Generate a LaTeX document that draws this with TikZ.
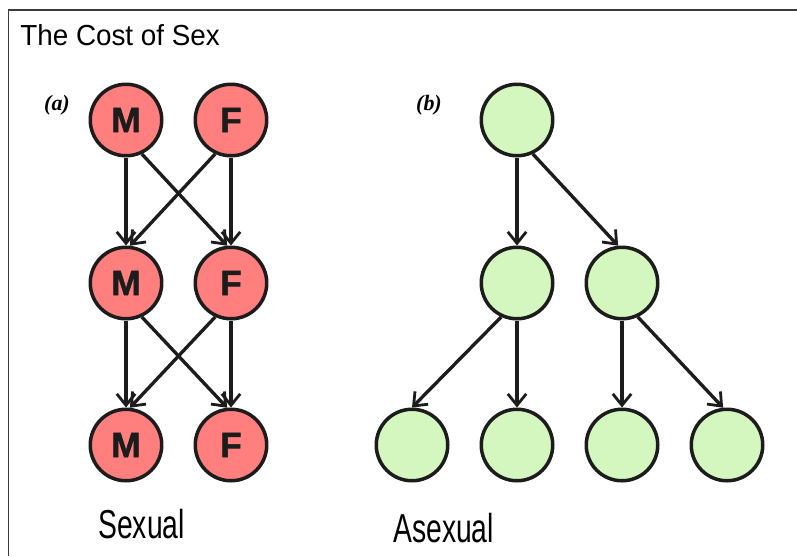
\documentclass[tikz,border=0pt]{standalone}
\usepackage{fontspec}
\setmainfont{Liberation Sans}
\newfontfamily\tagfont{Liberation Serif}
\newfontfamily\heavyfont[FakeBold=1.5]{Liberation Sans Bold}
\usetikzlibrary{arrows.meta}
\definecolor{colorff7f7f}{HTML}{FF7F7F}
\definecolor{colord4f7c0}{HTML}{D4F7C0}
\definecolor{color1c1c1c}{HTML}{1C1C1C}
\definecolor{color3c3c3c}{HTML}{3C3C3C}

\begin{document}
\begin{tikzpicture}
    [x=0.02cm, y=-0.02cm,
     >={Straight Barb[length=6.5pt,width=10.5pt,line width=1.6pt]},  % open barb tips
     cell/.style={shape=circle, draw=color1c1c1c, line width=0.07cm, minimum size=1.43cm, inner sep=0pt, text=color1c1c1c, font=\heavyfont\fontsize{20}{20}\selectfont},
     sexcell/.style={cell, fill=colorff7f7f},
     asexcell/.style={cell, fill=colord4f7c0},
     link/.style={->, draw=color1c1c1c, line width=1.9pt},
     tag/.style={inner sep=0pt, font=\tagfont\itshape\bfseries\fontsize{12.5}{14}\selectfont},
     caption/.style={anchor=base west, inner sep=0pt},
    ]

\useasboundingbox (0,0) rectangle (797,556);
\draw[color3c3c3c, line width=0.035cm] (797,10) -- (8.5,10) -- (8.5,556);

\node[caption, font=\fontsize{16.5}{19}\selectfont] (title) at (20,45) {\scalebox{0.96}[1]{The Cost of Sex}};
\node[tag] (tag_a) at (57,105) {(a)};
\node[tag] (tag_b) at (429,105) {(b)};

% sexual
\node[sexcell] (m_top) at (126,120) {M};
\node[sexcell] (f_top) at (231,120) {F};
\node[sexcell] (m_mid) at (126,283) {M};
\node[sexcell] (f_mid) at (231,283) {F};
\node[sexcell] (m_low) at (126,445) {M};
\node[sexcell] (f_low) at (231,445) {F};
\foreach \u/\v in {top/mid, mid/low} {
  \draw[link] (m_\u.south) -- (m_\v.north);
  \draw[link] (f_\u.south) -- (f_\v.north);
  \draw[link] (m_\u.-65) -- (f_\v.96);
  \draw[link] (f_\u.-115) -- (m_\v.84);
}

% asexual
\node[asexcell] (a_top) at (517,120) {};
\node[asexcell] (a_mid1) at (517,283) {};
\node[asexcell] (a_mid2) at (622,283) {};
\node[asexcell] (a_low1) at (412,445) {};
\node[asexcell] (a_low2) at (517,445) {};
\node[asexcell] (a_low3) at (622,445) {};
\node[asexcell] (a_low4) at (727,445) {};
\draw[link] (a_top.south) -- (a_mid1.north);
\draw[link] (a_top.-65) -- (a_mid2.96);
\draw[link] (a_mid1.-115) -- (a_low1.north);
\draw[link] (a_mid1.south) -- (a_low2.north);
\draw[link] (a_mid2.south) -- (a_low3.north);
\draw[link] (a_mid2.-65) -- (a_low4.96);

\node[caption] (cap_sexual) at (98,538) {\scalebox{0.7}[1]{\fontsize{23}{26}\selectfont Sexual}};
\node[caption] (cap_asexual) at (393,542) {\scalebox{0.7}[1]{\fontsize{23}{26}\selectfont Asexual}};

\end{tikzpicture}
\end{document}
